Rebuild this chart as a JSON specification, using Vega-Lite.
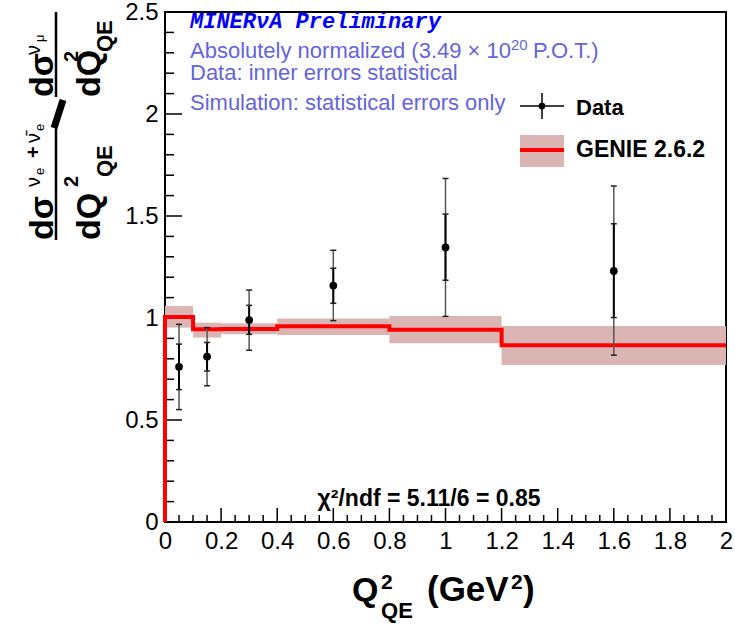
{
  "$schema": "https://vega.github.io/schema/vega-lite/v6.json",
  "width": 561,
  "height": 510,
  "autosize": "none",
  "padding": {"left": 165, "top": 12, "right": 9, "bottom": 102},
  "background": "white",
  "data": {"values": [{}]},
  "config": {
    "view": {"stroke": "black", "strokeWidth": 2},
    "text": {"font": "Liberation Sans", "color": "black"},
    "axis": {"ticks": false, "domain": false, "grid": false, "labelFontSize": 24, "labelFont": "Liberation Sans", "labelColor": "black", "labelPadding": 7, "labelFlush": false, "labelOverlap": false, "labelBound": false}
  },
  "datasets": {
    "bins": [
      {"lo": 0.0, "hi": 0.1, "mclo": 0.953, "mchi": 1.059},
      {"lo": 0.1, "hi": 0.2, "mclo": 0.904, "mchi": 0.977},
      {"lo": 0.2, "hi": 0.4, "mclo": 0.92, "mchi": 0.974},
      {"lo": 0.4, "hi": 0.8, "mclo": 0.917, "mchi": 0.998},
      {"lo": 0.8, "hi": 1.2, "mclo": 0.876, "mchi": 1.01},
      {"lo": 1.2, "hi": 2.0, "mclo": 0.769, "mchi": 0.961}
    ],
    "mcline": [
      {"q": 0.0, "r": 0.0, "i": 0},
      {"q": 0.0, "r": 1.005, "i": 1},
      {"q": 0.1, "r": 0.945, "i": 2},
      {"q": 0.2, "r": 0.946, "i": 3},
      {"q": 0.4, "r": 0.959, "i": 4},
      {"q": 0.8, "r": 0.943, "i": 5},
      {"q": 1.2, "r": 0.867, "i": 6},
      {"q": 2.0, "r": 0.867, "i": 7}
    ],
    "pts": [
      {"q": 0.05, "r": 0.761, "slo": 0.649, "shi": 0.872, "tlo": 0.551, "thi": 0.969},
      {"q": 0.15, "r": 0.811, "slo": 0.740, "shi": 0.880, "tlo": 0.668, "thi": 0.953},
      {"q": 0.3, "r": 0.990, "slo": 0.920, "shi": 1.062, "tlo": 0.842, "thi": 1.137},
      {"q": 0.6, "r": 1.159, "slo": 1.072, "shi": 1.244, "tlo": 0.987, "thi": 1.332},
      {"q": 1.0, "r": 1.346, "slo": 1.185, "shi": 1.509, "tlo": 1.008, "thi": 1.684},
      {"q": 1.6, "r": 1.231, "slo": 1.002, "shi": 1.462, "tlo": 0.818, "thi": 1.647}
    ],
    "xmaj": [{"t":0},{"t":0.2},{"t":0.4},{"t":0.6},{"t":0.8},{"t":1},{"t":1.2},{"t":1.4},{"t":1.6},{"t":1.8},{"t":2}],
    "xmin": [{"t":0.05},{"t":0.1},{"t":0.15},{"t":0.25},{"t":0.3},{"t":0.35},{"t":0.45},{"t":0.5},{"t":0.55},{"t":0.65},{"t":0.7},{"t":0.75},{"t":0.85},{"t":0.9},{"t":0.95},{"t":1.05},{"t":1.1},{"t":1.15},{"t":1.25},{"t":1.3},{"t":1.35},{"t":1.45},{"t":1.5},{"t":1.55},{"t":1.65},{"t":1.7},{"t":1.75},{"t":1.85},{"t":1.9},{"t":1.95}],
    "ymaj": [{"t":0},{"t":0.5},{"t":1},{"t":1.5},{"t":2},{"t":2.5}],
    "ymin": [{"t":0.1},{"t":0.2},{"t":0.3},{"t":0.4},{"t":0.6},{"t":0.7},{"t":0.8},{"t":0.9},{"t":1.1},{"t":1.2},{"t":1.3},{"t":1.4},{"t":1.6},{"t":1.7},{"t":1.8},{"t":1.9},{"t":2.1},{"t":2.2},{"t":2.3},{"t":2.4}]
  },
  "layer": [
    {
      "data": {"name": "bins"},
      "mark": {"type": "rect", "fill": "#dbb5b3"},
      "encoding": {
        "x": {"field": "lo", "type": "quantitative", "title": null,
          "scale": {"domain": [0, 2], "nice": false, "zero": false},
          "axis": {"orient": "bottom", "title": null, "grid": false, "ticks": false, "domain": false,
            "values": [0,0.2,0.4,0.6,0.8,1,1.2,1.4,1.6,1.8,2], "format": "~g",
            "labelPadding": 7, "labelFontSize": 24, "labelFont": "Liberation Sans", "labelColor": "black",
            "labelOverlap": false, "labelFlush": false, "labelBound": false}},
        "x2": {"field": "hi"},
        "y": {"field": "mclo", "type": "quantitative", "title": null,
          "scale": {"domain": [0, 2.5], "nice": false, "zero": false},
          "axis": {"orient": "left", "title": null, "grid": false, "ticks": false, "domain": false,
            "values": [0,0.5,1,1.5,2,2.5], "format": "~g",
            "labelPadding": 7, "labelFontSize": 24, "labelFont": "Liberation Sans", "labelColor": "black",
            "labelOverlap": false, "labelFlush": false, "labelBound": false}},
        "y2": {"field": "mchi"}
      }
    },
    {
      "data": {"name": "xmaj"},
      "mark": {"type": "rule", "color": "black", "strokeWidth": 1.5},
      "encoding": {"x": {"field": "t", "type": "quantitative", "title": null}, "y": {"datum": 0}, "y2": {"datum": 0.0686}}
    },
    {
      "data": {"name": "xmin"},
      "mark": {"type": "rule", "color": "black", "strokeWidth": 1.5},
      "encoding": {"x": {"field": "t", "type": "quantitative", "title": null}, "y": {"datum": 0}, "y2": {"datum": 0.0343}}
    },
    {
      "data": {"name": "ymaj"},
      "mark": {"type": "rule", "color": "black", "strokeWidth": 1.5},
      "encoding": {"y": {"field": "t", "type": "quantitative", "title": null}, "x": {"datum": 0}, "x2": {"datum": 0.0606}}
    },
    {
      "data": {"name": "ymin"},
      "mark": {"type": "rule", "color": "black", "strokeWidth": 1.5},
      "encoding": {"y": {"field": "t", "type": "quantitative", "title": null}, "x": {"datum": 0}, "x2": {"datum": 0.0321}}
    },
    {
      "data": {"name": "mcline"},
      "mark": {"type": "line", "interpolate": "step-after", "color": "#ff0000", "strokeWidth": 4},
      "encoding": {
        "x": {"field": "q", "type": "quantitative", "title": null},
        "y": {"field": "r", "type": "quantitative", "title": null},
        "order": {"field": "i"}
      }
    },
    {
      "data": {"name": "pts"},
      "mark": {"type": "rule", "color": "#555555", "strokeWidth": 1.5},
      "encoding": {
        "x": {"field": "q", "type": "quantitative", "title": null},
        "y": {"field": "tlo", "type": "quantitative", "title": null},
        "y2": {"field": "thi"}
      }
    },
    {
      "data": {"name": "pts"},
      "mark": {"type": "rule", "color": "black", "strokeWidth": 2},
      "encoding": {
        "x": {"field": "q", "type": "quantitative", "title": null},
        "y": {"field": "slo", "type": "quantitative", "title": null},
        "y2": {"field": "shi"}
      }
    },
    {
      "data": {"name": "pts"},
      "transform": [{"fold": ["slo", "shi", "tlo", "thi"], "as": ["k", "v"]}],
      "mark": {"type": "tick", "orient": "horizontal", "size": 6, "thickness": 1.5, "color": "#222222", "opacity": 1},
      "encoding": {
        "x": {"field": "q", "type": "quantitative", "title": null},
        "y": {"field": "v", "type": "quantitative", "title": null}
      }
    },
    {
      "data": {"name": "pts"},
      "mark": {"type": "point", "filled": true, "shape": "circle", "size": 60, "color": "black", "opacity": 1},
      "encoding": {
        "x": {"field": "q", "type": "quantitative", "title": null},
        "y": {"field": "r", "type": "quantitative", "title": null}
      }
    },
    {
      "mark": {"type": "text", "text": "MINERνA Preliminary", "font": "Liberation Mono", "fontWeight": "bold", "fontStyle": "italic", "fontSize": 22, "color": "#0000ff", "align": "left", "baseline": "middle"},
      "encoding": {"x": {"datum": 0.0891}, "y": {"datum": 2.4559}}
    },
    {
      "mark": {"type": "text", "text": "Absolutely normalized (3.49 × 10", "fontSize": 22, "color": "#6464dc", "align": "left", "baseline": "middle"},
      "encoding": {"x": {"datum": 0.0891}, "y": {"datum": 2.3064}}
    },
    {
      "mark": {"type": "text", "text": "20", "fontSize": 15, "color": "#6464dc", "align": "left", "baseline": "middle"},
      "encoding": {"x": {"datum": 1.2335}, "y": {"datum": 2.338}}
    },
    {
      "mark": {"type": "text", "text": "P.O.T.)", "fontSize": 22, "color": "#6464dc", "align": "left", "baseline": "middle"},
      "encoding": {"x": {"datum": 1.3119}, "y": {"datum": 2.3064}}
    },
    {
      "mark": {"type": "text", "text": "Data: inner errors statistical", "fontSize": 22, "color": "#6464dc", "align": "left", "baseline": "middle"},
      "encoding": {"x": {"datum": 0.0891}, "y": {"datum": 2.1995}}
    },
    {
      "mark": {"type": "text", "text": "Simulation: statistical errors only", "fontSize": 22, "color": "#6464dc", "align": "left", "baseline": "middle"},
      "encoding": {"x": {"datum": 0.0891}, "y": {"datum": 2.0525}}
    },
    {
      "mark": {"type": "text", "text": "χ²/ndf = 5.11/6 = 0.85", "fontSize": 23, "fontWeight": "bold", "align": "center", "baseline": "middle"},
      "encoding": {"x": {"datum": 0.9412}, "y": {"datum": 0.1127}}
    },
    {
      "mark": {"type": "rule", "color": "black", "strokeWidth": 1.5},
      "encoding": {"x": {"datum": 1.2656}, "x2": {"datum": 1.4225}, "y": {"datum": 2.0392}}
    },
    {
      "mark": {"type": "rule", "color": "black", "strokeWidth": 1.5},
      "encoding": {"x": {"datum": 1.344}, "y": {"datum": 2.1029}, "y2": {"datum": 1.9755}}
    },
    {
      "mark": {"type": "point", "filled": true, "shape": "circle", "size": 45, "color": "black", "opacity": 1},
      "encoding": {"x": {"datum": 1.344}, "y": {"datum": 2.0392}}
    },
    {
      "mark": {"type": "text", "text": "Data", "fontSize": 22, "fontWeight": "bold", "align": "left", "baseline": "middle"},
      "encoding": {"x": {"datum": 1.4652}, "y": {"datum": 2.0294}}
    },
    {
      "mark": {"type": "rect", "fill": "#dbb5b3"},
      "encoding": {"x": {"datum": 1.2656}, "x2": {"datum": 1.4225}, "y": {"datum": 1.8971}, "y2": {"datum": 1.7402}}
    },
    {
      "mark": {"type": "rule", "color": "#ff0000", "strokeWidth": 4},
      "encoding": {"x": {"datum": 1.2656}, "x2": {"datum": 1.4225}, "y": {"datum": 1.8235}}
    },
    {
      "mark": {"type": "text", "text": "GENIE 2.6.2", "fontSize": 23, "fontWeight": "bold", "align": "left", "baseline": "middle"},
      "encoding": {"x": {"datum": 1.4652}, "y": {"datum": 1.8235}}
    },
    {
      "mark": {"type": "text", "text": "Q", "fontSize": 34, "fontWeight": "bold", "align": "left", "baseline": "alphabetic"},
      "encoding": {"x": {"datum": 0.6667}, "y": {"datum": -0.3873}}
    },
    {
      "mark": {"type": "text", "text": "2", "fontSize": 21, "fontWeight": "bold", "align": "left", "baseline": "alphabetic"},
      "encoding": {"x": {"datum": 0.7701}, "y": {"datum": -0.3284}}
    },
    {
      "mark": {"type": "text", "text": "QE", "fontSize": 22, "fontWeight": "bold", "align": "left", "baseline": "alphabetic"},
      "encoding": {"x": {"datum": 0.7701}, "y": {"datum": -0.4706}}
    },
    {
      "mark": {"type": "text", "text": "(GeV", "fontSize": 35, "fontWeight": "bold", "align": "left", "baseline": "alphabetic"},
      "encoding": {"x": {"datum": 0.934}, "y": {"datum": -0.3873}}
    },
    {
      "mark": {"type": "text", "text": "2", "fontSize": 21, "fontWeight": "bold", "align": "left", "baseline": "alphabetic"},
      "encoding": {"x": {"datum": 1.2335}, "y": {"datum": -0.3284}}
    },
    {
      "mark": {"type": "text", "text": ")", "fontSize": 35, "fontWeight": "bold", "align": "left", "baseline": "alphabetic"},
      "encoding": {"x": {"datum": 1.2763}, "y": {"datum": -0.3873}}
    },
    {
      "mark": {"type": "text", "text": "dσ", "angle": 270, "fontSize": 34, "fontWeight": "bold", "align": "left", "baseline": "alphabetic"},
      "encoding": {"x": {"datum": -0.3993}, "y": {"datum": 1.3824}}
    },
    {
      "mark": {"type": "text", "text": "ν", "angle": 270, "fontSize": 20, "align": "left", "baseline": "alphabetic"},
      "encoding": {"x": {"datum": -0.4456}, "y": {"datum": 1.6422}}
    },
    {
      "mark": {"type": "text", "text": "e", "angle": 270, "fontSize": 13, "align": "left", "baseline": "alphabetic"},
      "encoding": {"x": {"datum": -0.4313}, "y": {"datum": 1.701}}
    },
    {
      "mark": {"type": "text", "text": "+", "angle": 270, "fontSize": 20, "fontWeight": "bold", "align": "left", "baseline": "alphabetic"},
      "encoding": {"x": {"datum": -0.4456}, "y": {"datum": 1.7843}}
    },
    {
      "mark": {"type": "text", "text": "ν̄", "angle": 270, "fontSize": 20, "align": "left", "baseline": "alphabetic"},
      "encoding": {"x": {"datum": -0.4456}, "y": {"datum": 1.8578}}
    },
    {
      "mark": {"type": "text", "text": "e", "angle": 270, "fontSize": 13, "align": "left", "baseline": "alphabetic"},
      "encoding": {"x": {"datum": -0.4313}, "y": {"datum": 1.9167}}
    },
    {
      "mark": {"type": "rule", "color": "black", "strokeWidth": 2.5},
      "encoding": {"x": {"datum": -0.3886}, "y": {"datum": 1.9314}, "y2": {"datum": 1.3824}}
    },
    {
      "mark": {"type": "text", "text": "dQ", "angle": 270, "fontSize": 34, "fontWeight": "bold", "align": "left", "baseline": "alphabetic"},
      "encoding": {"x": {"datum": -0.2317}, "y": {"datum": 1.3824}}
    },
    {
      "mark": {"type": "text", "text": "2", "angle": 270, "fontSize": 20, "fontWeight": "bold", "align": "left", "baseline": "alphabetic"},
      "encoding": {"x": {"datum": -0.3102}, "y": {"datum": 1.6422}}
    },
    {
      "mark": {"type": "text", "text": "QE", "angle": 270, "fontSize": 22, "fontWeight": "bold", "align": "left", "baseline": "alphabetic"},
      "encoding": {"x": {"datum": -0.1889}, "y": {"datum": 1.6912}}
    },
    {
      "mark": {"type": "rule", "color": "black", "strokeWidth": 7, "strokeCap": "butt"},
      "encoding": {"x": {"datum": -0.3957}, "x2": {"datum": -0.3636}, "y": {"datum": 1.9314}, "y2": {"datum": 2.0686}}
    },
    {
      "mark": {"type": "text", "text": "dσ", "angle": 270, "fontSize": 34, "fontWeight": "bold", "align": "left", "baseline": "alphabetic"},
      "encoding": {"x": {"datum": -0.3993}, "y": {"datum": 2.0833}}
    },
    {
      "mark": {"type": "text", "text": "ν", "angle": 270, "fontSize": 20, "align": "left", "baseline": "alphabetic"},
      "encoding": {"x": {"datum": -0.4456}, "y": {"datum": 2.2892}}
    },
    {
      "mark": {"type": "text", "text": "μ", "angle": 270, "fontSize": 13, "align": "left", "baseline": "alphabetic"},
      "encoding": {"x": {"datum": -0.4313}, "y": {"datum": 2.3529}}
    },
    {
      "mark": {"type": "rule", "color": "black", "strokeWidth": 2.5},
      "encoding": {"x": {"datum": -0.3886}, "y": {"datum": 2.5}, "y2": {"datum": 2.0833}}
    },
    {
      "mark": {"type": "text", "text": "dQ", "angle": 270, "fontSize": 34, "fontWeight": "bold", "align": "left", "baseline": "alphabetic"},
      "encoding": {"x": {"datum": -0.2317}, "y": {"datum": 2.0833}}
    },
    {
      "mark": {"type": "text", "text": "2", "angle": 270, "fontSize": 20, "fontWeight": "bold", "align": "left", "baseline": "alphabetic"},
      "encoding": {"x": {"datum": -0.3102}, "y": {"datum": 2.2549}}
    },
    {
      "mark": {"type": "text", "text": "QE", "angle": 270, "fontSize": 22, "fontWeight": "bold", "align": "left", "baseline": "alphabetic"},
      "encoding": {"x": {"datum": -0.1889}, "y": {"datum": 2.3039}}
    }
  ]
}
